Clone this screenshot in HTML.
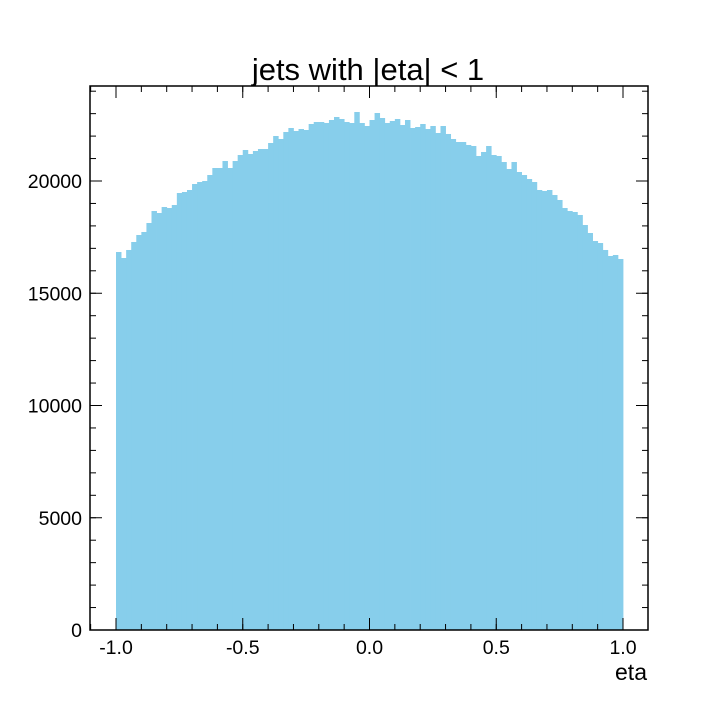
<!DOCTYPE html>
<html><head><meta charset="utf-8"><style>html,body{margin:0;padding:0;background:#fff}svg{display:block}text{font-family:"Liberation Sans",sans-serif}</style></head>
<body>
<svg id="chart" width="720" height="720">
<text x="368" y="80" font-size="31" text-anchor="middle">jets with |eta| &lt; 1</text>
<g id="bars"></g>
<rect x="90" y="86" width="558" height="544" fill="none" stroke="#000" stroke-width="1.5"/>
<g id="ticks"></g>
<text x="647" y="680" font-size="23" text-anchor="end">eta</text>
</svg>
<script>
const binEdgesStart = -1.0;
const binWidth = 0.02;
const counts = [16837,16570,16927,17283,17595,17728,18129,18663,18574,18841,
18797,18930,19465,19510,19599,19866,19955,20000,20267,20579,
20579,20890,20579,20890,21158,21381,21203,21336,21425,21425,
21693,22004,21871,22183,22361,22227,22316,22272,22539,22628,
22628,22584,22717,22851,22762,22628,22584,23073,22584,22450,
22717,23029,22806,22584,22673,22762,22494,22717,22361,22405,
22539,22316,22450,22138,22450,22094,21871,21737,21737,21604,
21559,21114,21292,21559,21158,21114,20846,20534,20846,20401,
20267,20089,19955,19599,19555,19599,19376,19154,18797,18663,
18619,18486,18040,17684,17327,17238,16927,16659,16704,16526];
const xTickVals = [-1.0,-0.5,0.0,0.5,1.0];
const xTickLabels = ["-1.0","-0.5","0.0","0.5","1.0"];
const yTickVals = [0,5000,10000,15000,20000];
const yTickLabels = ["0","5000","10000","15000","20000"];

const NS="http://www.w3.org/2000/svg";
const X0=90,X1=648,Y0=630,Y1=86;
const xs=v=>116+(v+1)*253.5;
const ys=v=>630-v*0.02245;
const bars=document.getElementById('bars');
counts.forEach((c,i)=>{
  const a=xs(binEdgesStart+i*binWidth), b=xs(binEdgesStart+(i+1)*binWidth);
  const r=document.createElementNS(NS,'rect');
  r.setAttribute('x',a);r.setAttribute('width',b-a+0.4);
  r.setAttribute('y',ys(c));r.setAttribute('height',ys(0)-ys(c));
  r.setAttribute('fill','#87ceeb');
  
  
  bars.appendChild(r);
});
const tk=document.getElementById('ticks');
function line(x1,y1,x2,y2){const l=document.createElementNS(NS,'line');l.setAttribute('x1',x1);l.setAttribute('y1',y1);l.setAttribute('x2',x2);l.setAttribute('y2',y2);l.setAttribute('stroke','#000');l.setAttribute('stroke-width','1');


tk.appendChild(l);}
function txt(x,y,s,anchor,name){const t=document.createElementNS(NS,'text');t.setAttribute('x',x);t.setAttribute('y',y);t.setAttribute('font-size','19.5');t.setAttribute('text-anchor',anchor);t.textContent=s;


tk.appendChild(t);}
for(let v=-1.1;v<=1.1001;v+=0.1){const x=xs(v);if(x<X0||x>X1)continue;line(x,Y0,x,Y0-6);line(x,Y1,x,Y1+6);}
xTickVals.forEach((v,i)=>{const x=xs(v);line(x,Y0,x,Y0-12);line(x,Y1,x,Y1+12);txt(x,654,xTickLabels[i],'middle','x-tick-label');});
for(let v=0;ys(v)>=Y1;v+=1000){const y=ys(v);line(X0,y,X0+6,y);line(X1,y,X1-6,y);}
yTickVals.forEach((v,i)=>{const y=ys(v);line(X0,y,X0+12,y);line(X1,y,X1-12,y);txt(82,y+7,yTickLabels[i],'end','y-tick-label');});
</script>
</body></html>
